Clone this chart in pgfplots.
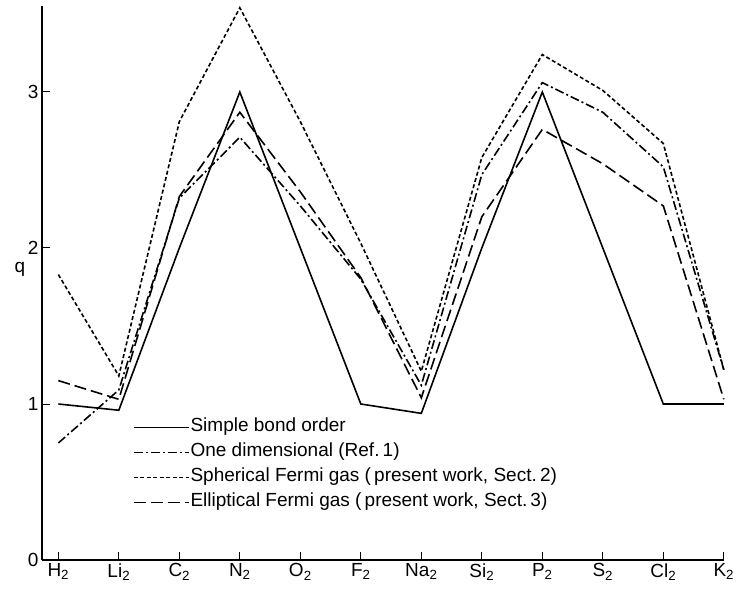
\documentclass[border=0pt]{standalone}
\usepackage{fontspec}
\setmainfont{Liberation Sans}
\usepackage{pgfplots}
\pgfplotsset{compat=1.18}
\begin{document}
\begin{tikzpicture}[x=1pt,y=1pt]
\useasboundingbox (-42,-32) rectangle (704,560);
\begin{axis}[
  at={(0,0)}, anchor=south west,
  width=681.8pt, height=553.8pt, scale only axis,
  xmin=-0.27, xmax=11, ymin=0, ymax=3.55,
  axis x line*=bottom, axis y line*=left,
  axis line style={line width=1.4pt},
  xtick={0,1,2,3,4,5,6,7,8,9,10,11},
  xticklabels={H\textsubscript{2},Li\textsubscript{2},C\textsubscript{2},N\textsubscript{2},O\textsubscript{2},F\textsubscript{2},Na\textsubscript{2},Si\textsubscript{2},P\textsubscript{2},S\textsubscript{2},Cl\textsubscript{2},K\textsubscript{2}},
  ytick={0,1,2,3}, yticklabels={0,1,2,3},
  tick align=inside, major tick length=8pt,
  tick style={black, line width=1pt},
  every tick label/.append style={font=\fontsize{19}{22}\selectfont},
  clip=false,
  legend cell align=left,
  legend image code/.code={\draw[#1] (0pt,0pt) -- (55pt,0pt);},
  legend style={draw=none, fill=none, at={(axis cs:1.23,0.61)}, anchor=west,
    inner sep=0pt, row sep=4pt, font=\fontsize{19}{22}\selectfont,
    nodes={inner sep=1pt, text height=14pt, text depth=5pt}},
]
% Simple bond order
\addplot[black, line width=1.6pt, solid] coordinates {
(0,1) (1,0.96) (2,2) (3,3) (4,2) (5,1) (6,0.94) (7,2) (8,3) (9,2) (10,1) (11,1)};
\addlegendentry{Simple bond order}
% One dimensional
\addplot[black, line width=1.6pt, dash pattern=on 9pt off 3pt on 2pt off 3pt] coordinates {
(0,0.75) (1,1.09) (2,2.32) (3,2.71) (4,2.27) (5,1.80) (6,1.12) (7,2.47) (8,3.06) (9,2.87) (10,2.52) (11,1.22)};
\addlegendentry{One dimensional (Ref.\,1)}
% Spherical Fermi gas
\addplot[black, line width=1.6pt, dash pattern=on 4pt off 2.5pt] coordinates {
(0,1.83) (1,1.18) (2,2.81) (3,3.54) (4,2.81) (5,2.03) (6,1.21) (7,2.58) (8,3.24) (9,3.01) (10,2.67) (11,1.22)};
\addlegendentry{Spherical Fermi gas (\,present work, Sect.\,2)}
% Elliptical Fermi gas
\addplot[black, line width=1.6pt, dash pattern=on 12pt off 5pt] coordinates {
(0,1.15) (1,1.03) (2,2.33) (3,2.87) (4,2.36) (5,1.81) (6,1.04) (7,2.20) (8,2.76) (9,2.54) (10,2.27) (11,1.03)};
\addlegendentry{Elliptical Fermi gas (\,present work, Sect.\,3)}
\node[font=\fontsize{19}{22}\selectfont] at (axis cs:-0.27,1.86) [xshift=-22pt] {q};
\end{axis}
\end{tikzpicture}
\end{document}
